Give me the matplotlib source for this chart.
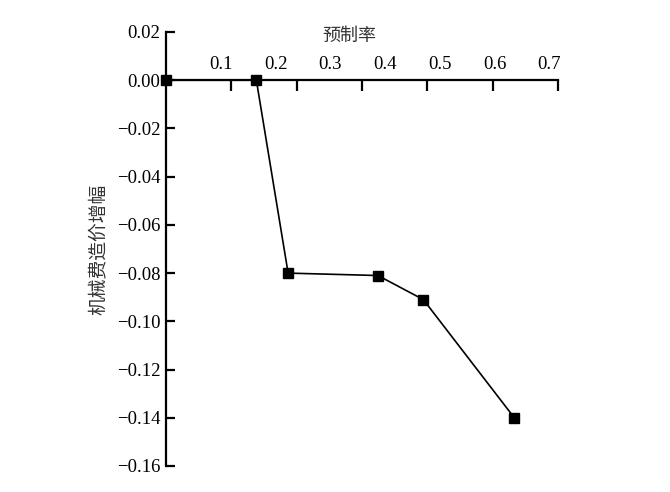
import matplotlib
matplotlib.use("Agg")
import matplotlib.pyplot as plt
from matplotlib.ticker import FixedLocator, FuncFormatter
import numpy as np

# Data
prefab_rate = [0.0, 0.165, 0.223, 0.387, 0.470, 0.636]
cost_increase = [0.0, 0.0, -0.080, -0.081, -0.091, -0.140]
x_tick_labels = [0.1, 0.2, 0.3, 0.4, 0.5, 0.6, 0.7]
x_tick_marks = [0.1193, 0.2386, 0.3579, 0.4772, 0.5965, 0.7158]
y_ticks = [0.02, 0.00, -0.02, -0.04, -0.06, -0.08, -0.10, -0.12, -0.14, -0.16]
x_label = "预制率"
y_label = "机械费造价增幅"

plt.rcParams['font.family'] = ['Liberation Serif', 'Noto Sans CJK SC', 'DejaVu Sans']
plt.rcParams['axes.unicode_minus'] = True

fig = plt.figure(figsize=(6.7, 4.92), dpi=100)
ax = fig.add_axes([166/670, 1-466/492, (558-166)/670, (466-32)/492])

ax.plot(prefab_rate, cost_increase, color='black', linewidth=1.2,
        marker='s', markersize=7, markerfacecolor='black', markeredgecolor='black',
        clip_on=False, zorder=5)

ax.set_xlim(0, 0.7158)
ax.set_ylim(-0.16, 0.02)

ax.spines['right'].set_visible(False)
ax.spines['bottom'].set_visible(False)
ax.spines['top'].set_position(('data', 0))
ax.spines['top'].set_linewidth(1.6)
ax.spines['left'].set_linewidth(1.6)

ax.xaxis.set_ticks_position('top')
ax.xaxis.set_major_locator(FixedLocator(x_tick_labels))
ax.xaxis.set_major_formatter(FuncFormatter(lambda v, p: f"{v:.1f}"))
ax.xaxis.set_minor_locator(FixedLocator(x_tick_marks))
ax.tick_params(axis='x', which='major', length=0, pad=5, labelsize=13.5, labeltop=True)
ax.tick_params(axis='x', which='minor', direction='in', length=8, width=1.6)

ax.yaxis.set_major_locator(FixedLocator(y_ticks))
ax.yaxis.set_major_formatter(FuncFormatter(lambda v, p: f"{v:.2f}".replace('-', '\u2212')))
ax.tick_params(axis='y', which='major', direction='in', length=6.5, width=1.6,
               pad=4, labelsize=13.5)

ax.text(0.335, 0.0185, x_label, ha='center', va='center', fontsize=13,
        family=['Noto Sans CJK SC', 'DejaVu Sans'], color='#333333')
ax.set_ylabel(y_label, fontsize=13.5, family=['Noto Sans CJK SC', 'DejaVu Sans'],
              color='#333333', labelpad=6)

fig.savefig("out.png", dpi=100)
